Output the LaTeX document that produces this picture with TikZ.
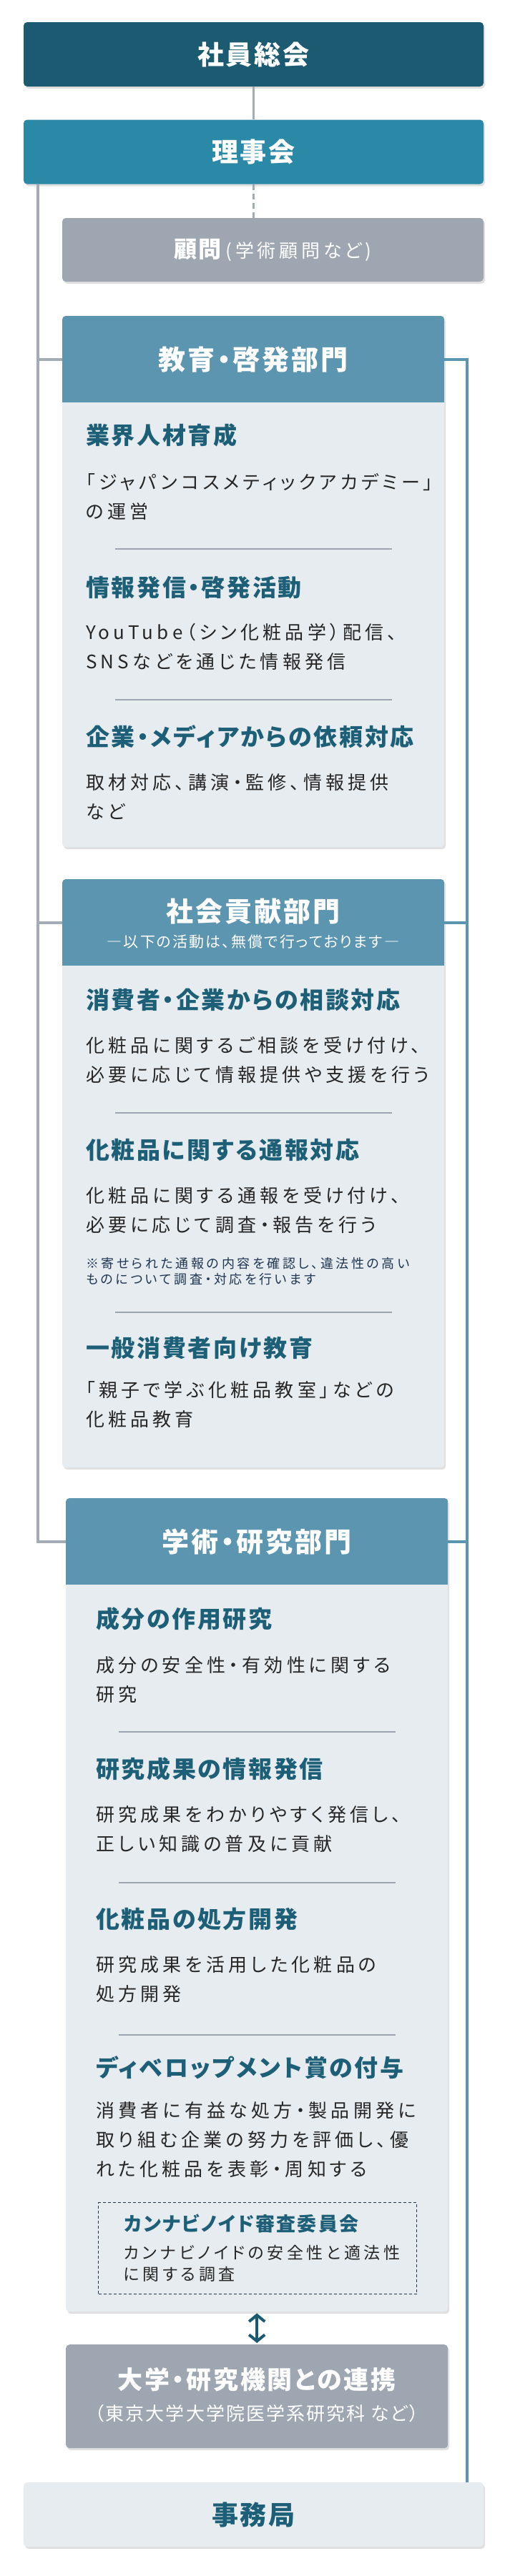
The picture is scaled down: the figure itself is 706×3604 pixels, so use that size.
\documentclass[tikz,border=0pt]{standalone}
\usepackage{fontspec}
\setmainfont{Noto Sans CJK JP}[RawFeature=+palt]
\usetikzlibrary{arrows.meta,shadows}
\definecolor{navy}{HTML}{1B5A70}
\definecolor{board}{HTML}{2B89A8}
\definecolor{grayb}{HTML}{9EA7B1}
\definecolor{hdr}{HTML}{5B95AF}
\definecolor{pale}{HTML}{E6ECF0}
\definecolor{ink}{HTML}{1D5F77}
\definecolor{bodyink}{HTML}{262626}
\definecolor{noteink}{HTML}{1F3550}
\definecolor{rulec}{HTML}{9CA5AF}
\definecolor{wirec}{HTML}{A3ABB4}
\newcommand\typo[3]{\fontsize{#1}{#2}\selectfont\addfontfeatures{LetterSpace=#3}}

\begin{document}
\begin{tikzpicture}[
  x=1pt, y=-1pt,
  boxshadow/.style={drop shadow={shadow xshift=2pt, shadow yshift=-3pt, opacity=.12, fill=black}},
  toptier/.style={minimum width=643pt, minimum height=90pt, rounded corners=5pt, inner sep=0pt, text=white, font={\bfseries\typo{37}{44}{8}}, boxshadow},
  deptbox/.style={fill=pale, minimum width=534pt, anchor=north west, inner sep=0pt, rounded corners=5pt, boxshadow},
  depthd/.style={fill=hdr, minimum width=534pt, minimum height=121pt, anchor=north, inner sep=0pt, text=white, font={\bfseries\typo{38}{44}{8}}},
  headg/.style={anchor=west, inner sep=0pt, text=ink, font={\bfseries\typo{33}{40}{8}}},
  bodytxt/.style={anchor=west, inner sep=0pt, align=left, text=bodyink, font={\typo{26}{41}{20}}},
  notetxt/.style={bodytxt, text=noteink, font={\typo{18}{22}{20}}},
  sepl/.style={draw=rulec, line width=2pt},
  wire/.style={draw=wirec, line width=4pt},
  tie/.style={draw=hdr, line width=4pt},
  biarrow/.style={draw=navy, line width=4pt, {Straight Barb[length=9pt,width=22pt]}-{Straight Barb[length=9pt,width=22pt]}, shorten <=2pt, shorten >=2pt}
]
\useasboundingbox[fill=white] (0,0) rectangle (706,3604);

% top of the chart
\node[toptier, fill=navy] (gm) at (354.5,76) {社員総会};
\node[toptier, fill=board] (bd) at (354.5,212.5) {理事会};
\node[fill=grayb, minimum width=589pt, minimum height=89pt, rounded corners=5pt, inner sep=0pt, text=white, boxshadow] (adv) at (381.5,349.5) {{\bfseries\typo{32}{40}{8}顧問}\hspace{6pt}{\typo{26}{30}{18}(学術顧問など)}};
\draw[wire, line width=3.5pt] (gm) -- (bd);
\draw[wire, line width=3.5pt, dash pattern=on 8pt off 5pt] (bd.south) -- (bd.south |- adv.north);

% education
\node[deptbox, minimum height=743pt] (edu) at (87,442) {};
\begin{scope}
  \clip[rounded corners=5pt] (edu.north west) rectangle (edu.south east);
  \node[depthd] (eduhd) at (edu.north) {教育・啓発部門};
\end{scope}
\node[headg] (eduh1) at (120,609) {業界人材育成};
\node[bodytxt] (edub1) at (120,694.5) {「ジャパンコスメティックアカデミー」\\の運営};
\draw[sepl] (161,768) -- (548,768);
\node[headg] (eduh2) at (120,822) {情報発信・啓発活動};
\node[bodytxt] (edub2) at (120,905) {YouTube（シン化粧品学）配信、\\SNSなどを通じた情報発信};
\draw[sepl] (161,979) -- (548,979);
\node[headg] (eduh3) at (120,1031) {企業・メディアからの依頼対応};
\node[bodytxt] (edub3) at (120,1115) {取材対応、講演・監修、情報提供\\など};

% social contribution
\node[deptbox, minimum height=823pt] (soc) at (87,1230) {};
\begin{scope}
  \clip[rounded corners=5pt] (soc.north west) rectangle (soc.south east);
  \node[depthd] (sochd) at (soc.north) {};
\end{scope}
\node[text=white, font={\bfseries\typo{38}{44}{8}}] (soctl) at (354,1275) {社会貢献部門};
\node[text=white, font={\typo{21}{24}{10}}] (socsub) at (354,1318) {―以下の活動は、無償で行っております―};
\node[headg] (soch1) at (120,1399) {消費者・企業からの相談対応};
\node[bodytxt] (socb1) at (120,1483) {化粧品に関するご相談を受け付け、\\必要に応じて情報提供や支援を行う};
\draw[sepl] (161,1557) -- (548,1557);
\node[headg] (soch2) at (120,1609) {化粧品に関する通報対応};
\node[bodytxt] (socb2) at (120,1693.5) {化粧品に関する通報を受け付け、\\必要に応じて調査・報告を行う};
\node[notetxt] (socn2) at (120,1779) {※寄せられた通報の内容を確認し、違法性の高い\\ものについて調査・対応を行います};
\draw[sepl] (161,1836) -- (548,1836);
\node[headg] (soch3) at (120,1886) {一般消費者向け教育};
\node[bodytxt] (socb3) at (120,1965) {「親子で学ぶ化粧品教室」などの\\化粧品教育};

% academic research
\node[deptbox, minimum height=1138pt] (aca) at (92,2096) {};
\begin{scope}
  \clip[rounded corners=5pt] (aca.north west) rectangle (aca.south east);
  \node[depthd] (acahd) at (aca.north) {学術・研究部門};
\end{scope}
\node[headg] (acah1) at (134,2265) {成分の作用研究};
\node[bodytxt] (acab1) at (134,2350) {成分の安全性・有効性に関する\\研究};
\draw[sepl] (166,2423) -- (553,2423);
\node[headg] (acah2) at (134,2475) {研究成果の情報発信};
\node[bodytxt] (acab2) at (134,2559) {研究成果をわかりやすく発信し、\\正しい知識の普及に貢献};
\draw[sepl] (166,2634) -- (553,2634);
\node[headg] (acah3) at (134,2685) {化粧品の処方開発};
\node[bodytxt] (acab3) at (134,2769.5) {研究成果を活用した化粧品の\\処方開発};
\draw[sepl] (166,2847) -- (553,2847);
\node[headg] (acah4) at (134,2893) {ディベロップメント賞の付与};
\node[bodytxt] (acab4) at (134,2994) {消費者に有益な処方・製品開発に\\取り組む企業の努力を評価し、優\\れた化粧品を表彰・周知する};
\node[draw=noteink, line width=1pt, dash pattern=on 4pt off 3pt, minimum width=445pt, minimum height=128pt, anchor=north west, inner sep=0pt] (cbd) at (137,3081) {};
\node[headg, font={\bfseries\typo{27}{30}{8}}] (cbdh) at (173,3111) {カンナビノイド審査委員会};
\node[bodytxt, font={\typo{23}{30}{20}}] (cbdb) at (173,3167) {カンナビノイドの安全性と適法性\\に関する調査};

% partners and office
\node[fill=grayb, minimum width=534pt, minimum height=145pt, rounded corners=5pt, inner sep=0pt, boxshadow, anchor=north west] (uni) at (92,3280) {};
\node[text=white, font={\bfseries\typo{35}{40}{8}}] (unitl) at (359,3329) {大学・研究機関との連携};
\node[text=white, font={\typo{26}{30}{8}}] (unisub) at (359,3377) {（東京大学大学院医学系研究科 など）};
\draw[biarrow] (aca) -- (uni);
\node[toptier, fill=pale, text=ink] (sec) at (354.5,3518) {事務局};

% connectors
\draw[wire] (bd.south west) ++(20,0) coordinate (lt) |- (acahd.west);
\draw[wire] (eduhd.west) -- (eduhd.west -| lt);
\draw[wire] (sochd.west) -- (sochd.west -| lt);
\coordinate (rt) at ([xshift=-23pt]sec.north east);
\draw[tie] (eduhd.east) -| (rt);
\draw[tie] (sochd.east) -- (sochd.east -| rt);
\draw[tie] (acahd.east) -- (acahd.east -| rt);
\end{tikzpicture}
\end{document}
